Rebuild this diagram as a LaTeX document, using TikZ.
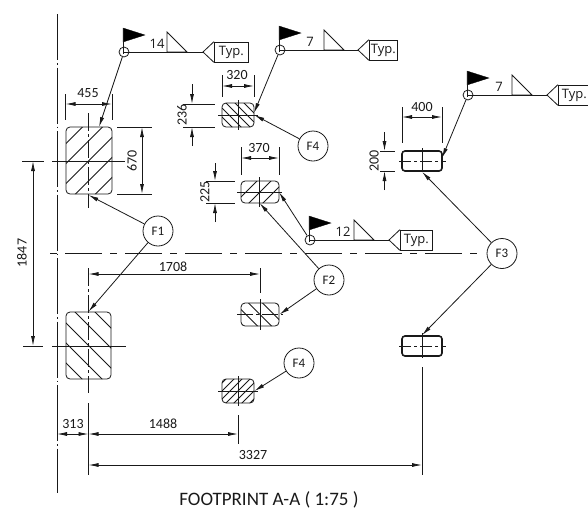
\documentclass[tikz,border=0pt]{standalone}
\usepackage{fontspec}
\setmainfont{Carlito}
\newfontfamily\weldfont{Open Sans}
\usetikzlibrary{arrows.meta,calc}
\definecolor{ink}{gray}{0.1}
\tikzset{
  x=1pt,y=-1pt,
  every picture/.style={line width=0.8pt,color=ink},
  tip/.style={-{Latex[length=10pt,width=4pt]}},
  dimline/.style={{Latex[length=10pt,width=4pt]}-{Latex[length=10pt,width=4pt]}},
  lab/.style={font=\fontsize{14}{14}\selectfont,text=ink,inner sep=0pt},
  weldlab/.style={font=\fontsize{13}{13}\weldfont,text=ink,inner sep=0pt},
  callout/.style={circle,draw,minimum size=30pt,inner sep=0pt,font=\fontsize{13}{13}\selectfont,text=ink},
  weldpt/.style={circle,draw,minimum size=10pt,inner sep=0pt},
  typbox/.style={rectangle,draw,minimum width=#1,minimum height=20pt,inner sep=0pt,font=\fontsize{13}{13}\weldfont,text=ink},
  plate/.style n args={4}{rectangle,draw,rounded corners=4pt,minimum width=#1,minimum height=#2,inner sep=0pt,
    path picture={\foreach \k in {-12,...,12}{
      \draw[line width=0.8pt] ([xshift=\k*#4 pt]path picture bounding box.center) ++(-60*#3,60) -- ++(120*#3,-120);}}},
  thickplate/.style 2 args={rectangle,draw,rounded corners=3pt,line width=1.6pt,minimum width=#1,minimum height=#2,inner sep=0pt},
  axis/.style={dash pattern=on 56pt off 3pt on 1.5pt off 3pt,dash phase=10pt},
  cen/.style={dash pattern=on 18pt off 3pt on 3pt off 3pt},
  midline/.style={dash pattern=on 37pt off 8pt on 7pt off 8pt,dash phase=44pt},
  flagfill/.style={fill=black,draw=black,line width=0.3pt}
}
\newcommand{\weldsym}[8]{% name, x, y, triangle x, tail x, number, box width, number x
  \node[weldpt] (#1) at (#2,#3) {};
  \fill[flagfill] (#2-1,#3-24) -- (#2+21,#3-17) -- (#2-1,#3-10) -- cycle;
  \draw (#2-1,#3-24) -- (#2-1,#3+2);
  \coordinate (#1t) at (#5,#3);
  \draw (#1.center) -- (#1t);
  \draw (#4,#3-20) -- (#4,#3) -- (#4+20,#3) -- cycle;
  \node[weldlab,anchor=base] at (#8,#3-3.5) {#6};
  \node[typbox=#7,anchor=west] (#1b) at (#5+11,#3) {Typ.};
  \draw (#1b.north west) -- (#1t) -- (#1b.south west);
}
\begin{document}
\begin{tikzpicture}
\useasboundingbox (0,0) rectangle (588,517);
% axes
\draw[axis] (57,14) -- (57,493);
\draw[midline] (49,253.5) -- (477,253.5);
% plates
\node[plate={46pt}{67pt}{1}{20}] (pa) at (89,160.5) {};
\node[plate={45pt}{67pt}{-1}{20}] (pb) at (88.5,345.5) {};
\node[plate={32pt}{24pt}{-1}{9}] (pc) at (238,115) {};
\node[plate={38pt}{22pt}{1}{14}] (pd) at (260,192) {};
\node[plate={38pt}{23pt}{-1}{14}] (pe) at (260,314.5) {};
\node[plate={32pt}{24pt}{1}{8}] (pf) at (238,391) {};
\node[thickplate={40pt}{20pt}] (pg) at (422,161) {};
\node[thickplate={40pt}{20pt}] (ph) at (422,346) {};
% centre marks
\draw[cen] (88.5,113) -- (88.5,208);
\draw (22,161) -- (44,161);
\draw (52,161) -- (125,161);
\draw[cen] (88.5,268) -- (88.5,393);
\draw (88.5,403) -- (88.5,475);
\draw (23,346) -- (43,346);
\draw (52,346) -- (126,346);
\draw (238,100) -- (238,130);
\draw (218,115.5) -- (258,115.5);
\draw (259.5,177) -- (259.5,207);
\draw (237,192) -- (282,192);
\draw (260,299) -- (260,330);
\draw[dash pattern=on 16pt off 3pt on 3pt off 3pt] (237,314.5) -- (283,314.5);
\draw (238,376) -- (238,406);
\draw (218,391) -- (258,391);
\draw (422,148) -- (422,172);
\draw[dash pattern=on 12pt off 3pt on 3pt off 3pt] (399,161) -- (446,161);
\draw (422,333) -- (422,358);
\draw[dash pattern=on 12pt off 3pt on 3pt off 3pt] (399,346) -- (446,346);
% dimensions
\draw (65.5,94) -- (65.5,120);
\draw (112,94) -- (112,120);
\draw[dimline] (65.5,104) -- (112,104);
\node[lab] at (88,93) {455};
\draw (117,127) -- (152,127);
\draw (117,194) -- (152,194);
\draw[dimline] (142,127) -- (142,194);
\node[lab,rotate=90] at (132,161) {670};
\draw[dimline] (33,161) -- (33,346);
\node[lab,rotate=90] at (22,253) {1847};
\draw (183,104) -- (215,104);
\draw (183,127) -- (215,127);
\draw[tip] (192,84) -- (192,104);
\draw[tip] (192,146) -- (192,127);
\node[lab,rotate=90] at (182,115) {236};
\draw (222,75) -- (222,97);
\draw (254,75) -- (254,97);
\draw[dimline] (222,86) -- (254,86);
\node[lab] at (237,75) {320};
\draw (241,147) -- (241,175);
\draw (279,147) -- (279,175);
\draw[dimline] (241,158) -- (279,158);
\node[lab] at (259,148) {370};
\draw (206,181) -- (235,181);
\draw (206,203) -- (235,203);
\draw[tip] (215,163) -- (215,181);
\draw[tip] (215,222) -- (215,203);
\node[lab,rotate=90] at (205,192) {225};
\draw (402,107) -- (402,143);
\draw (442,107) -- (442,143);
\draw[dimline] (402,117) -- (442,117);
\node[lab] at (422,107) {400};
\draw (380,151) -- (395,151);
\draw (380,171) -- (395,171);
\draw[tip] (384.5,132) -- (384.5,151);
\draw[tip] (384.5,190) -- (384.5,171);
\node[lab,rotate=90] at (374,161) {200};
\draw (260,268) -- (260,293);
\draw[dimline] (88.5,274) -- (260,274);
\node[lab] at (173,267) {1708};
\draw (238,415) -- (238,444);
\draw (422,367) -- (422,475);
\draw[dimline] (57,434) -- (88.5,434);
\node[lab] at (73,424) {313};
\draw[dimline] (88.5,434) -- (238,434);
\node[lab] at (163,424) {1488};
\draw[dimline] (88.5,465) -- (422,465);
\node[lab] at (253,455) {3327};
\node[lab,font=\fontsize{19}{19}\selectfont] at (269,500) {FOOTPRINT A-A ( 1:75 )};
% weld symbols
\weldsym{wa}{124}{52}{167}{203}{14}{34pt}{157}
\weldsym{wb}{280}{50}{324}{358}{7}{28pt}{310}
\weldsym{wc}{310}{240}{354}{389}{12}{32pt}{343}
\weldsym{wd}{468}{95}{512}{547}{7}{32pt}{499}
% callouts
\node[callout] (fa) at (158,231) {F1};
\node[callout] (fb) at (313,146) {F4};
\node[callout] (fc) at (329,280) {F2};
\node[callout] (fd) at (502,253.5) {F3};
\node[callout] (fe) at (299,363) {F4};
% leaders
\coordinate (qa) at (99,127);
\coordinate (qb) at (254,113);
\coordinate (qc) at (279,192);
\coordinate (qd) at (442,158);
\draw[tip] (wa) -- (qa);
\draw[tip] (wb) -- (qb);
\draw[tip] (wc) -- (qc);
\draw[tip] (wd) -- (qd);
\draw[tip] (fa) -- (88.5,195);
\draw[tip] (fa) -- (pb.north);
\draw[tip] (fb) -- (pc.east);
\draw[tip] (fc) -- (259.5,203);
\draw[tip] (fc) -- (pe.east);
\draw[tip] (fd) -- (pg.south);
\draw[tip] (fd) -- (ph.north);
\draw[tip] (fe) -- (pf.east);
\end{tikzpicture}
\end{document}
